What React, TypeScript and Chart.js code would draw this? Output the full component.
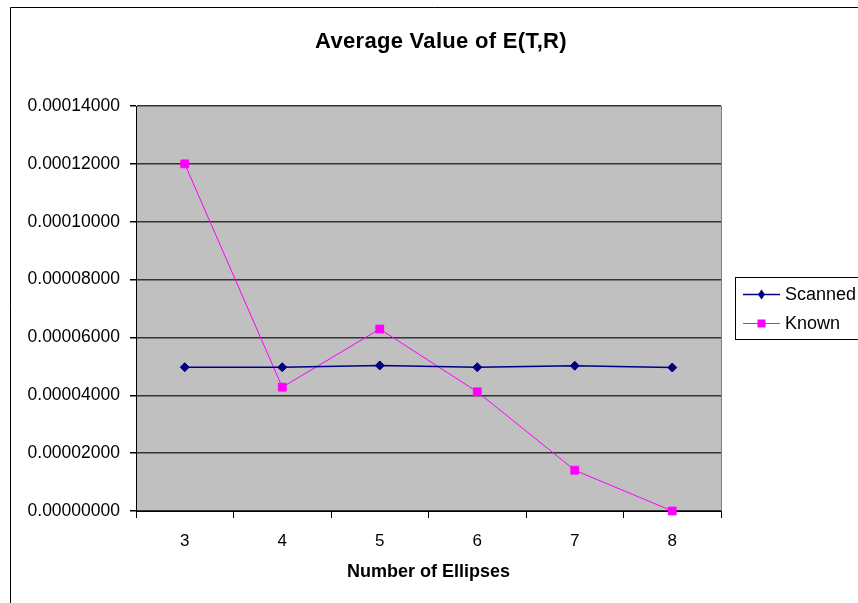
import React, { useEffect, useRef } from "react";
import { Chart, registerables } from "chart.js";

Chart.register(...registerables);

const categories = ["3", "4", "5", "6", "7", "8"];
const scannedValues = [0.0000497, 0.0000497, 0.0000503, 0.0000497, 0.0000502, 0.0000496];
const knownValues = [0.00012, 0.0000428, 0.0000629, 0.0000412, 0.0000141, 0.0];
const yTicks = [0, 0.00002, 0.00004, 0.00006, 0.00008, 0.0001, 0.00012, 0.00014];

const chartTitle = "Average Value of E(T,R)";
const xTitle = "Number of Ellipses";

const FONT = "'Liberation Sans', Arial, sans-serif";
const W = 858;
const H = 603;

// Grey plot background, outer frame, title and boxed legend in Excel style
const excelDecor = {
  id: "excelDecor",
  beforeDraw(chart: any) {
    const { ctx, chartArea } = chart;
    ctx.save();
    ctx.fillStyle = "#ffffff";
    ctx.fillRect(0, 0, W, H);
    ctx.fillStyle = "#c0c0c0";
    ctx.fillRect(chartArea.left, chartArea.top, chartArea.right - chartArea.left, chartArea.bottom - chartArea.top);
    // right edge of the plot area
    ctx.strokeStyle = "#808080";
    ctx.lineWidth = 1;
    ctx.beginPath();
    ctx.moveTo(chartArea.right + 0.5, chartArea.top);
    ctx.lineTo(chartArea.right + 0.5, chartArea.bottom);
    ctx.stroke();
    // chart frame
    ctx.strokeStyle = "#000000";
    ctx.beginPath();
    ctx.moveTo(10.5, H);
    ctx.lineTo(10.5, 7.5);
    ctx.lineTo(W, 7.5);
    ctx.stroke();
    // title
    ctx.fillStyle = "#000000";
    ctx.font = `bold 22px ${FONT}`;
    (ctx as any).letterSpacing = "0.3px";
    ctx.textAlign = "center";
    ctx.textBaseline = "middle";
    ctx.fillText(chartTitle, 441, 42);
    (ctx as any).letterSpacing = "0px";
    ctx.restore();
  },
  afterDraw(chart: any) {
    const { ctx } = chart;
    ctx.save();
    ctx.fillStyle = "#ffffff";
    ctx.fillRect(735.5, 277.5, 140, 62);
    ctx.strokeStyle = "#000000";
    ctx.lineWidth = 1;
    ctx.strokeRect(735.5, 277.5, 140, 62);
    const rows = [294, 323];
    chart.data.datasets.forEach((ds: any, i: number) => {
      const y = rows[i];
      ctx.strokeStyle = ds.borderColor;
      ctx.lineWidth = ds.borderWidth;
      ctx.beginPath();
      ctx.moveTo(743, y + 0.5);
      ctx.lineTo(780, y + 0.5);
      ctx.stroke();
      ctx.fillStyle = ds.pointBackgroundColor;
      ctx.beginPath();
      if (ds.pointStyle === "rectRot") {
        ctx.moveTo(761.5, y - 4.5);
        ctx.lineTo(765, y + 0.5);
        ctx.lineTo(761.5, y + 5.5);
        ctx.lineTo(758, y + 0.5);
        ctx.closePath();
      } else {
        ctx.rect(757.5, y - 3.5, 8, 8);
      }
      ctx.fill();
      ctx.fillStyle = "#000000";
      ctx.font = `18px ${FONT}`;
      ctx.textAlign = "left";
      ctx.textBaseline = "middle";
      ctx.fillText(ds.label, 785, y + 1);
    });
    ctx.restore();
  },
};

export default function App() {
  const canvasRef = useRef<HTMLCanvasElement | null>(null);

  useEffect(() => {
    if (!canvasRef.current) return;
    const chart = new Chart(canvasRef.current, {
      type: "line",
      data: {
        labels: categories,
        datasets: [
          {
            label: "Scanned",
            data: scannedValues,
            borderColor: "#000080",
            backgroundColor: "#000080",
            pointBackgroundColor: "#000080",
            pointBorderColor: "#000080",
            pointStyle: "rectRot",
            pointRadius: 4.5,
            pointBorderWidth: 1,
            borderWidth: 1.5,
            tension: 0,
            clip: false,
          },
          {
            label: "Known",
            data: knownValues,
            borderColor: "#ff00ff",
            backgroundColor: "#ff00ff",
            pointBackgroundColor: "#ff00ff",
            pointBorderColor: "#ff00ff",
            pointStyle: "rect",
            pointRadius: 5.5,
            pointBorderWidth: 1,
            borderWidth: 1,
            tension: 0,
            clip: false,
          },
        ] as any,
      },
      options: {
        animation: false,
        responsive: false,
        devicePixelRatio: 1,
        layout: { padding: { top: 106, right: 137, left: 0, bottom: 0 } },
        plugins: {
          legend: { display: false },
          title: { display: false },
          tooltip: { enabled: false },
        },
        scales: {
          x: {
            type: "category",
            offset: true,
            afterFit: (s: any) => {
              s.height = 92;
            },
            grid: {
              offset: true,
              drawOnChartArea: false,
              drawTicks: true,
              tickLength: 7,
              color: "#000000",
            },
            border: { display: true, color: "#000000", width: 1 },
            ticks: {
              color: "#000000",
              font: { family: FONT, size: 17 },
              padding: 13,
              maxRotation: 0,
            },
            title: {
              display: true,
              text: xTitle,
              color: "#000000",
              font: { family: FONT, size: 18, weight: "bold" },
              padding: { top: 0, bottom: 20 },
            },
          },
          y: {
            min: 0,
            max: 0.00014,
            afterFit: (s: any) => {
              s.width = 136;
            },
            afterBuildTicks: (s: any) => {
              s.ticks = yTicks.map((v) => ({ value: v }));
            },
            grid: {
              color: "#333333",
              lineWidth: 1.5,
              drawTicks: true,
              tickLength: 6,
              tickColor: "#000000",
            },
            border: { display: true, color: "#000000", width: 1 },
            ticks: {
              color: "#000000",
              font: { family: FONT, size: 17.5 },
              padding: 10,
              callback: (v: any) => Number(v).toFixed(8),
            },
          },
        },
      } as any,
      plugins: [excelDecor],
    });
    return () => chart.destroy();
  }, []);

  return (
    <div style={{ position: "absolute", left: 0, top: 0, width: W, height: H, background: "#fff" }}>
      <canvas ref={canvasRef} width={W} height={H} style={{ display: "block" }} />
    </div>
  );
}
